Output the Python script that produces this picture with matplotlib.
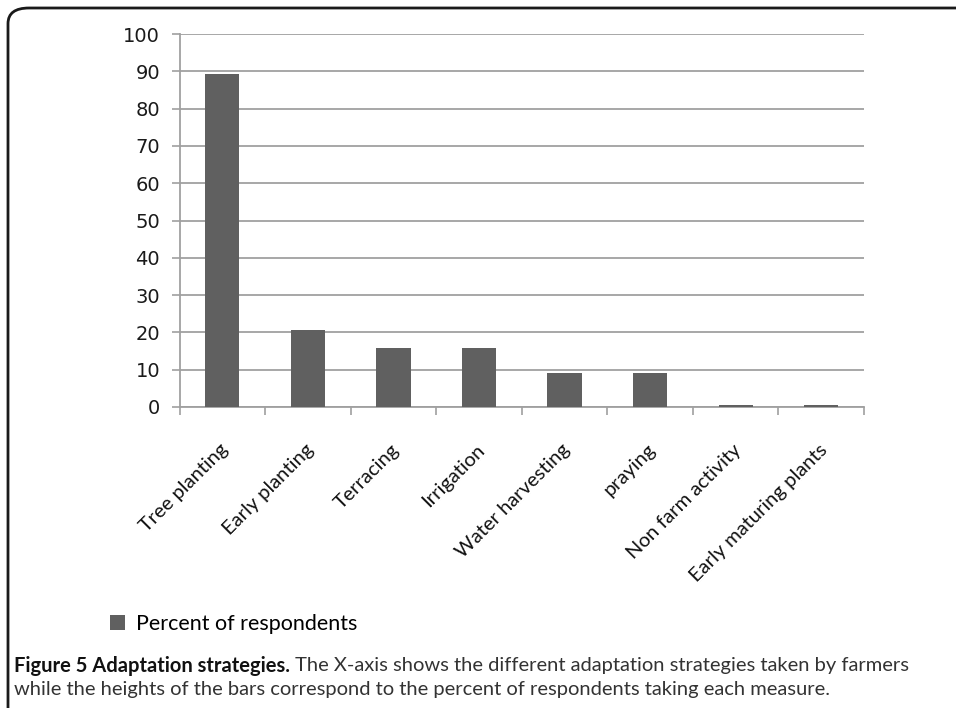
import matplotlib
matplotlib.use('Agg')
import matplotlib.pyplot as plt
import matplotlib.transforms as mtransforms
from matplotlib.patches import FancyBboxPatch, Patch
import numpy as np

# Dados
estrategias = ['Tree planting', 'Early planting', 'Terracing', 'Irrigation',
               'Water harvesting', 'praying', 'Non farm activity',
               'Early maturing plants']
percentual = [89.2, 20.7, 15.7, 15.7, 9.1, 9.1, 0.5, 0.5]
y_ticks = list(range(0, 101, 10))

serie = 'Percent of respondents'
legenda_titulo = 'Figure 5 Adaptation strategies.'
legenda_l1 = ' The X-axis shows the different adaptation strategies taken by farmers'
legenda_l2 = 'while the heights of the bars correspond to the percent of respondents taking each measure.'

W, H = 956, 708
fig = plt.figure(figsize=(W / 100, H / 100), dpi=100)

# moldura com canto arredondado
moldura = FancyBboxPatch((8 / W, -0.05), 1.2, 1.05 - 8 / H,
                         boxstyle='round,pad=0,rounding_size=0.022',
                         transform=fig.transFigure, fill=False,
                         edgecolor='#1a1a1a', linewidth=2.0, clip_on=False)
fig.patches.append(moldura)

ax = fig.add_axes([179.5 / W, (H - 407) / H, (864 - 179.5) / W, (407 - 34) / H])

x = np.arange(len(estrategias))
ax.bar(x, percentual, width=0.4, color='#606060', zorder=3)

# customização
ax.set_ylim(0, 100)
ax.set_xlim(-0.5, len(estrategias) - 0.5)
ax.set_yticks(y_ticks)
ax.yaxis.grid(True, color='#a0a0a0', linewidth=1.3, zorder=0)
ax.set_axisbelow(True)

for lado in ['top', 'right']:
    ax.spines[lado].set_visible(False)
for lado in ['left', 'bottom']:
    ax.spines[lado].set_color('#a0a0a0')
    ax.spines[lado].set_linewidth(1.3)

ax.tick_params(axis='y', direction='out', length=6, width=1.2, color='#a0a0a0',
               pad=8, labelsize=14, labelcolor='#1a1a1a')

# ticks entre as categorias
ax.set_xticks(np.arange(-0.5, len(estrategias), 1), minor=True)
ax.tick_params(axis='x', which='minor', direction='out', length=6, width=1.2,
               color='#a0a0a0')
ax.set_xticks(x)
ax.set_xticklabels(estrategias, rotation=45, ha='right', va='center',
                   rotation_mode='anchor', fontsize=14.5, family='Lato',
                   color='#111111')
ax.tick_params(axis='x', which='major', length=0, pad=0)
desloc = mtransforms.ScaledTranslation(0.03, -0.40, fig.dpi_scale_trans)
for rotulo in ax.get_xticklabels():
    rotulo.set_transform(rotulo.get_transform() + desloc)

for rotulo in ax.get_yticklabels():
    rotulo.set_family('DejaVu Sans')

# legenda
fig.legend(handles=[Patch(facecolor='#606060', label=serie)],
           loc='center left', bbox_to_anchor=(91 / W, 1 - 624 / H),
           frameon=False, handlelength=0.7, handleheight=0.7,
           handletextpad=0.5, prop={'family': 'Lato', 'size': 15.5})

# legenda da figura
t1 = fig.text(14 / W, 1 - 666 / H, legenda_titulo, fontsize=14.5,
              fontweight='bold', family='Lato', color='#111111', va='center')
fig.canvas.draw()
bb = t1.get_window_extent()
fig.text(bb.x1 / W, 1 - 666 / H, legenda_l1, fontsize=14.5, family='Lato',
         color='#333333', va='center')
fig.text(14 / W, 1 - 689 / H, legenda_l2, fontsize=14.5, family='Lato',
         color='#333333', va='center')

fig.savefig('out.png', dpi=100)
